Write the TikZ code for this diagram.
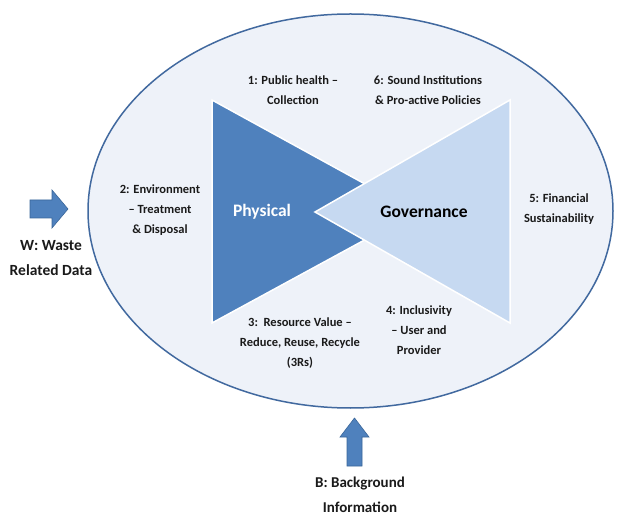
\documentclass[tikz,border=0pt]{standalone}
\usepackage{fontspec}
\setmainfont{Carlito}
\usetikzlibrary{shapes.geometric}
\definecolor{ellfill}{HTML}{EEF2F9}
\definecolor{ellline}{HTML}{41699F}
\definecolor{dblue}{HTML}{4F81BD}
\definecolor{lblue}{HTML}{C6D9F1}
\definecolor{arrline}{HTML}{3A6699}
\definecolor{txt}{HTML}{1A1A1A}
\begin{document}
\begin{tikzpicture}[x=1pt,y=-1pt,
  lbl/.style={align=center, font=\fontsize{12.5}{20}\selectfont\bfseries, text=txt, inner sep=0pt},
  big/.style={align=center, font=\fontsize{15.5}{25.5}\selectfont\bfseries, text=txt, inner sep=0pt},
  tri/.style={draw=white, line width=1.5pt, line join=miter},
  blockarrow/.style={fill=dblue, draw=arrline, line width=0.6pt, line join=miter}]
\useasboundingbox (0,0) rectangle (624,521);
\fill[white] (0,0) rectangle (624,521);
% ellipse
\node[draw=ellline, fill=ellfill, line width=1.5pt, ellipse, minimum width=525pt, minimum height=394pt, inner sep=0pt] (ell) at (350.5,211) {};
% triangles
\coordinate (p1) at (212,100);
\coordinate (p2) at (212,323);
\coordinate (p3) at (416,212);
\coordinate (g1) at (510,100);
\coordinate (g2) at (510,323);
\coordinate (g3) at (315,212);
\filldraw[tri, fill=dblue] (p1) -- (p3) -- (p2) -- cycle;
\filldraw[tri, fill=lblue] (g1) -- (g3) -- (g2) -- cycle;
% labels
\node[lbl] (l1) at (293,90) {1: Public health --\\Collection};
\node[lbl] (l6) at (428,90) {6: Sound Institutions\\\& Pro-active Policies};
\node[lbl] (l2) at (160,210) {2: Environment\\-- Treatment\\\& Disposal};
\node[lbl] (l5) at (559,209) {5: Financial\\Sustainability};
\node[lbl] (l3) at (300,343) {3:\ \ Resource Value --\\Reduce, Reuse, Recycle\\(3Rs)};
\node[lbl] (l4) at (419,330) {4: Inclusivity\\-- User and\\Provider};
\node[font=\fontsize{17.5}{20}\selectfont\bfseries, text=white, inner sep=0pt] (phys) at (262,212) {Physical};
\node[font=\fontsize{17.5}{20}\selectfont\bfseries, text=black, inner sep=0pt] (gov) at (424,212) {Governance};
% W arrow
\filldraw[blockarrow] (30,200) -- (52,200) -- (52,190) -- (68,209) -- (52,228) -- (52,218) -- (30,218) -- cycle;
\node[big] (w) at (51,258) {W: Waste\\Related Data};
% B arrow
\filldraw[blockarrow] (347,466) -- (347,437) -- (340,437) -- (354.5,418) -- (369,437) -- (362,437) -- (362,466) -- cycle;
\node[big, font=\fontsize{15}{25}\selectfont\bfseries] (b) at (360,495) {B: Background\\Information};
\end{tikzpicture}
\end{document}
